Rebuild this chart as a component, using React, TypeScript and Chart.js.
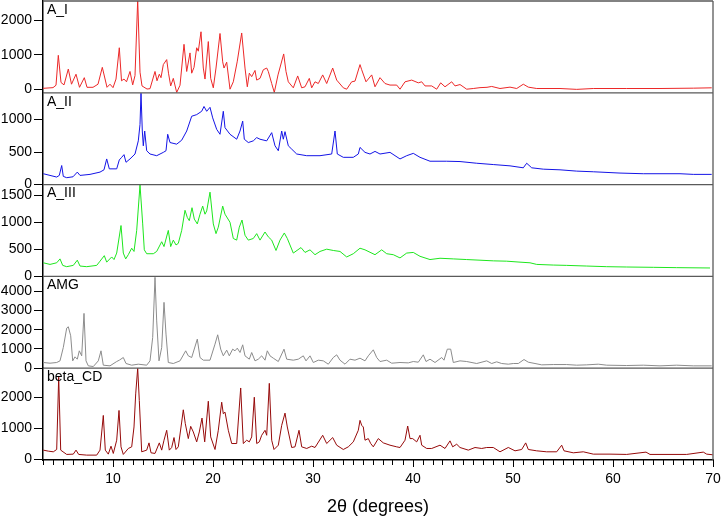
import { useEffect, useRef } from 'react';
import { Chart, registerables } from 'chart.js';

Chart.register(...registerables);

type Pt = [number, number];

// 2θ (degrees), intensity
const A_I: Pt[] = [
  [3.0, 30], [3.5, 40], [4.0, 50], [4.3, 120], [4.53, 990], [4.8, 200], [5.1, 130], [5.53, 590], [5.85, 150],
  [6.3, 440], [6.65, 60], [7.13, 340], [7.4, 60], [8.0, 60], [8.5, 150], [8.93, 640], [9.4, 60], [9.7, 150],
  [10.0, 50], [10.3, 300], [10.63, 1210], [10.85, 250], [11.1, 300], [11.35, 220], [11.7, 520], [11.97, 130],
  [12.2, 400], [12.47, 2600], [12.7, 500], [12.9, 100], [13.4, 10], [13.7, 20], [14.2, 520], [14.4, 250],
  [14.63, 440], [14.8, 340], [15.03, 720], [15.37, 865], [15.55, 470], [15.77, 100], [16.03, 320], [16.37, -90],
  [16.7, 120], [17.1, 1310], [17.37, 520], [17.7, 1060], [17.87, 470], [18.1, 640], [18.37, 1210], [18.53, 1110],
  [18.8, 1675], [19.03, 620], [19.2, 300], [19.53, 1390], [19.77, 320], [20.03, 45], [20.3, 620], [20.7, 1625],
  [20.97, 800], [21.1, 620], [21.37, 790], [21.7, 5], [22.03, 220], [22.43, 820], [22.87, 1640], [23.2, 620],
  [23.43, 75], [23.63, 470], [23.87, 370], [24.2, 550], [24.37, 270], [24.7, 320], [25.03, 570], [25.37, 620],
  [25.53, 520], [25.87, 170], [26.13, -90], [26.5, 420], [27.07, 1030], [27.3, 520], [27.53, 220], [28.03, 45],
  [28.47, 390], [28.87, 45], [29.2, 75], [29.63, 320], [29.87, 45], [30.2, 220], [30.53, 170], [30.97, 420],
  [31.37, 170], [31.97, 620], [32.37, 270], [33.03, 45], [33.37, 5], [33.87, 220], [34.2, 240], [34.7, 720],
  [34.87, 570], [35.3, 220], [35.87, 420], [36.2, 75], [36.7, 340], [37.2, 170], [37.7, 125], [38.37, 125],
  [38.7, 5], [39.2, 220], [39.87, 270], [40.53, 190], [40.87, 220], [41.2, 100], [41.87, 100], [42.37, 5],
  [42.77, 190], [43.2, 75], [43.87, 220], [44.2, 100], [44.7, 140], [45.37, 5], [46.03, 25], [46.7, 50],
  [47.4, 60], [47.87, 85], [48.7, 25], [49.7, 65], [50.37, 25], [51.03, 150], [51.53, 65], [52.37, 25],
  [54.7, 25], [56.37, 0], [58.03, 25], [61.37, 25], [64.7, 25], [68.03, 35], [69.87, 45],
];

const A_II: Pt[] = [
  [3.03, 167], [3.7, 141], [4.37, 116], [4.63, 141], [4.87, 293], [5.03, 126], [5.37, 106], [6.0, 120],
  [6.43, 192], [6.7, 141], [7.7, 157], [8.7, 192], [9.1, 227], [9.37, 394], [9.63, 242], [10.37, 242],
  [10.63, 379], [10.87, 419], [11.1, 460], [11.3, 343], [11.7, 394], [12.2, 470], [12.53, 672], [12.7, 924],
  [12.8, 1404], [12.93, 823], [13.03, 596], [13.17, 823], [13.37, 520], [13.7, 470], [14.37, 444], [15.03, 495],
  [15.3, 520], [15.47, 773], [15.7, 646], [16.37, 621], [16.87, 682], [17.37, 823], [17.87, 1050], [18.37, 1075],
  [18.87, 1126], [19.1, 1200], [19.37, 1126], [19.7, 1187], [19.97, 1025], [20.37, 848], [20.7, 773],
  [21.03, 1126], [21.2, 874], [21.7, 773], [22.37, 697], [22.7, 823], [22.97, 975], [23.13, 697], [23.53, 646],
  [24.03, 672], [24.37, 722], [24.7, 697], [25.37, 672], [25.87, 798], [26.2, 596], [26.53, 520], [26.87, 823],
  [27.03, 697], [27.2, 813], [27.53, 596], [27.87, 545], [28.37, 470], [29.37, 444], [30.7, 444], [31.87, 470],
  [32.2, 823], [32.43, 470], [33.03, 419], [34.03, 419], [34.53, 470], [34.7, 571], [35.2, 495], [35.7, 470],
  [36.2, 510], [36.7, 470], [37.7, 495], [38.7, 394], [39.37, 444], [40.03, 480], [40.7, 419], [41.7, 359],
  [43.37, 359], [44.7, 354], [46.37, 328], [48.03, 308], [49.7, 288], [51.03, 258], [51.37, 328], [51.87, 258],
  [53.03, 237], [54.7, 227], [56.37, 207], [58.03, 197], [60.7, 177], [63.03, 167], [64.7, 167], [66.7, 167],
  [68.03, 157], [69.87, 157],
];

const A_III: Pt[] = [
  [3.03, 252], [3.7, 222], [4.37, 252], [4.7, 324], [4.97, 204], [5.37, 180], [6.03, 204], [6.43, 300],
  [6.7, 192], [7.37, 180], [8.37, 204], [8.7, 282], [9.13, 384], [9.37, 264], [9.87, 360], [10.1, 312],
  [10.37, 432], [10.8, 942], [11.03, 432], [11.27, 324], [11.53, 402], [11.87, 522], [12.1, 462], [12.37, 852],
  [12.7, 1692], [12.97, 972], [13.13, 492], [13.37, 420], [14.03, 420], [14.37, 462], [14.87, 642], [15.1, 552],
  [15.53, 852], [15.77, 552], [16.03, 672], [16.3, 582], [16.53, 612], [16.87, 852], [17.2, 1224], [17.43, 1092],
  [17.63, 1032], [17.9, 1272], [18.13, 1062], [18.43, 972], [18.7, 1152], [18.97, 1302], [19.2, 1152],
  [19.37, 1212], [19.7, 1560], [20.03, 972], [20.3, 792], [20.53, 912], [20.97, 1302], [21.2, 1152], [21.7, 1002],
  [22.03, 702], [22.37, 672], [22.63, 912], [22.9, 1044], [23.2, 762], [23.53, 672], [24.03, 702], [24.37, 792],
  [24.7, 672], [25.2, 822], [25.53, 732], [25.87, 672], [26.3, 480], [26.7, 672], [27.13, 804], [27.43, 702],
  [28.03, 432], [28.8, 534], [29.2, 444], [29.7, 492], [30.2, 402], [30.7, 462], [31.37, 504], [32.03, 480],
  [32.7, 462], [33.37, 360], [34.03, 420], [34.7, 522], [35.2, 492], [36.2, 402], [36.87, 492], [37.37, 420],
  [38.03, 402], [38.7, 342], [39.37, 432], [40.03, 444], [40.7, 372], [41.7, 312], [42.7, 336], [44.03, 324],
  [45.37, 312], [46.7, 300], [48.03, 288], [49.37, 282], [50.7, 264], [51.7, 252], [52.37, 222], [54.03, 210],
  [55.37, 204], [57.37, 192], [59.37, 180], [61.37, 174], [64.03, 168], [66.37, 162], [69.7, 156],
];

const AMG: Pt[] = [
  [3.03, 296], [3.7, 261], [4.37, 296], [4.7, 383], [5.03, 1079], [5.37, 2088], [5.53, 2158], [5.77, 1688],
  [5.97, 383], [6.2, 592], [6.43, 470], [6.63, 905], [6.87, 644], [7.1, 2854], [7.3, 383], [7.53, 122],
  [8.03, 87], [8.53, 383], [8.8, 905], [9.03, 157], [9.7, 122], [10.37, 348], [10.63, 418], [11.03, 557],
  [11.3, 244], [11.87, 157], [12.53, 209], [13.37, 157], [13.7, 383], [13.97, 1601], [14.2, 4733], [14.37, 2462],
  [14.6, 383], [14.87, 1079], [15.1, 3428], [15.3, 1775], [15.53, 296], [16.03, 244], [16.7, 383], [17.27, 905],
  [17.53, 644], [17.87, 557], [18.43, 1514], [18.7, 557], [19.03, 418], [19.7, 418], [20.2, 1253], [20.47, 1740],
  [20.77, 992], [21.03, 644], [21.37, 940], [21.63, 644], [21.97, 992], [22.2, 905], [22.43, 1044], [22.7, 818],
  [22.97, 1218], [23.2, 644], [23.63, 470], [23.87, 818], [24.2, 383], [24.53, 470], [24.87, 644], [25.2, 418],
  [25.43, 905], [25.7, 644], [26.03, 522], [26.53, 348], [27.1, 992], [27.37, 470], [28.03, 418], [28.53, 470],
  [29.03, 644], [29.3, 383], [29.7, 644], [30.03, 296], [30.53, 418], [31.03, 383], [31.53, 209], [32.03, 557],
  [32.37, 696], [32.7, 418], [33.2, 209], [33.7, 470], [34.2, 418], [34.7, 522], [35.2, 383], [35.53, 644],
  [36.03, 957], [36.37, 557], [36.7, 348], [37.37, 418], [37.87, 261], [38.7, 296], [39.53, 278], [40.03, 348],
  [40.53, 313], [41.03, 696], [41.3, 348], [41.7, 470], [42.2, 296], [42.87, 557], [43.1, 418], [43.43, 992],
  [43.77, 992], [44.03, 296], [44.7, 383], [45.37, 348], [46.37, 244], [47.37, 383], [47.87, 244], [48.37, 331],
  [48.87, 244], [49.53, 209], [50.03, 244], [50.53, 244], [51.1, 452], [51.53, 313], [52.2, 244], [52.87, 174],
  [54.03, 191], [55.37, 191], [56.37, 157], [57.37, 174], [58.53, 209], [59.37, 157], [61.37, 139], [63.03, 157],
  [64.7, 122], [66.37, 157], [68.03, 122], [69.87, 122],
];

const BETA_CD: Pt[] = [
  [3.03, 289], [3.53, 257], [4.03, 235], [4.37, 310], [4.57, 2650], [4.77, 289], [5.37, 150], [6.03, 160],
  [6.3, 289], [6.57, 150], [7.37, 128], [8.37, 128], [8.7, 289], [9.03, 1412], [9.23, 289], [9.53, 160],
  [9.8, 417], [10.03, 182], [10.37, 610], [10.6, 1573], [10.8, 396], [11.03, 150], [11.53, 343], [11.87, 396],
  [12.1, 1038], [12.27, 2108], [12.47, 2940], [12.63, 1894], [12.87, 235], [13.37, 289], [13.6, 524], [13.8, 203],
  [14.2, 182], [14.63, 524], [14.87, 289], [15.1, 610], [15.37, 931], [15.63, 289], [15.87, 374], [16.1, 696],
  [16.3, 310], [16.53, 396], [16.87, 1198], [17.03, 1594], [17.23, 1145], [17.53, 663], [17.77, 1059], [18.03, 877],
  [18.37, 556], [18.63, 877], [18.9, 1327], [19.17, 556], [19.53, 1872], [19.77, 717], [20.2, 310], [20.53, 931],
  [20.87, 1840], [21.03, 1466], [21.2, 1519], [21.53, 931], [21.87, 503], [22.37, 503], [22.77, 2300], [23.03, 503],
  [23.37, 610], [23.63, 556], [23.87, 717], [24.13, 2001], [24.37, 503], [24.63, 556], [24.87, 770], [25.2, 931],
  [25.37, 770], [25.63, 2450], [25.87, 610], [26.1, 310], [26.53, 449], [26.87, 1091], [27.2, 1487], [27.43, 1038],
  [27.87, 374], [28.2, 396], [28.6, 931], [28.87, 396], [29.37, 343], [29.87, 417], [30.2, 374], [30.97, 770],
  [31.37, 503], [31.97, 696], [32.37, 449], [33.03, 310], [33.53, 396], [34.03, 556], [34.53, 931], [34.7, 1252],
  [34.87, 1091], [35.03, 1038], [35.2, 610], [35.53, 663], [35.77, 503], [36.03, 396], [36.53, 663], [37.03, 524],
  [37.7, 449], [38.37, 396], [38.7, 374], [39.2, 610], [39.47, 1070], [39.7, 663], [39.97, 663], [40.37, 556],
  [40.7, 770], [40.87, 449], [41.37, 343], [41.87, 343], [42.7, 449], [43.2, 343], [43.7, 589], [43.97, 396],
  [44.37, 481], [44.7, 374], [45.53, 289], [46.2, 374], [46.87, 343], [47.37, 374], [48.03, 374], [48.7, 235],
  [49.53, 375], [50.2, 267], [50.87, 310], [51.27, 524], [51.53, 310], [52.37, 267], [53.37, 235], [54.37, 235],
  [54.87, 449], [55.1, 267], [56.03, 203], [57.03, 235], [58.03, 160], [59.7, 160], [61.37, 150], [63.3, 225],
  [63.7, 150], [65.7, 150], [67.37, 150], [69.03, 225], [69.37, 160], [69.97, 139],
];

const X_MIN = 3;
const X_MAX = 70;
const X_MAJOR_TICKS = [10, 20, 30, 40, 50, 60, 70];
const X_TITLE = '2θ (degrees)';

const PANELS = [
  { id: 'yA1', label: 'A_I', data: A_I, color: 'rgb(236,40,40)', min: -100, max: 2570, ticks: [0, 1000, 2000] },
  { id: 'yA2', label: 'A_II', data: A_II, color: 'rgb(20,20,230)', min: 0, max: 1410, ticks: [0, 500, 1000] },
  { id: 'yA3', label: 'A_III', data: A_III, color: 'rgb(30,230,30)', min: 0, max: 1700, ticks: [0, 500, 1000, 1500] },
  { id: 'yAMG', label: 'AMG', data: AMG, color: 'rgb(140,140,140)', min: 0, max: 4780, ticks: [0, 1000, 2000, 3000, 4000] },
  { id: 'yBCD', label: 'beta_CD', data: BETA_CD, color: 'rgb(150,10,10)', min: -30, max: 2940, ticks: [0, 1000, 2000] },
];

const FONT = '"Liberation Sans", Arial, Helvetica, sans-serif';

const framePlugin = {
  id: 'panelFrame',
  afterDatasetsDraw(chart: any) {
    const { ctx, chartArea } = chart;
    ctx.save();
    ctx.strokeStyle = '#5a5a5a';
    ctx.lineWidth = 1.3;
    ctx.beginPath();
    PANELS.forEach((p) => {
      const s = chart.scales[p.id];
      ctx.moveTo(chartArea.left, s.top);
      ctx.lineTo(chartArea.right, s.top);
    });
    ctx.moveTo(chartArea.right, chartArea.top);
    ctx.lineTo(chartArea.right, chartArea.bottom);
    ctx.stroke();
    ctx.fillStyle = '#000';
    ctx.font = `14px ${FONT}`;
    ctx.textBaseline = 'top';
    ctx.textAlign = 'left';
    PANELS.forEach((p) => {
      const s = chart.scales[p.id];
      ctx.fillText(p.label, chartArea.left + 4, s.top + 2);
    });
    ctx.restore();
  },
};

export default function App() {
  const ref = useRef<HTMLCanvasElement | null>(null);

  useEffect(() => {
    if (!ref.current) return;
    const scales: any = {
      xMinor: {
        type: 'linear',
        position: 'bottom',
        min: X_MIN,
        max: X_MAX,
        weight: 0,
        ticks: { display: false, stepSize: 1, autoSkip: false },
        grid: { drawOnChartArea: false, drawTicks: true, tickLength: 5, tickColor: '#000', tickWidth: 1 },
        border: { display: false },
        afterFit: (s: any) => { s.height = 0; s.paddingLeft = 0; s.paddingRight = 0; },
      },
      x: {
        type: 'linear',
        position: 'bottom',
        min: X_MIN,
        max: X_MAX,
        weight: 1,
        afterBuildTicks: (s: any) => { s.ticks = X_MAJOR_TICKS.map((v) => ({ value: v })); },
        ticks: { autoSkip: false, maxRotation: 0, color: '#000', font: { family: FONT, size: 14 }, padding: 4, callback: (v: any) => String(v) },
        grid: { drawOnChartArea: false, drawTicks: true, tickLength: 7, tickColor: '#000', tickWidth: 1 },
        border: { display: true, color: '#000', width: 1.5 },
        title: { display: true, text: X_TITLE, color: '#000', font: { family: FONT, size: 18 }, padding: { top: 4, bottom: 0 } },
        afterFit: (s: any) => { s.height = 58; s.paddingLeft = 0; s.paddingRight = 0; },
      },
    };
    PANELS.forEach((p, i) => {
      scales[p.id] = {
        type: 'linear',
        position: 'left',
        stack: 'panels',
        stackWeight: 1,
        weight: PANELS.length - i,
        offset: false,
        min: p.min,
        max: p.max,
        afterBuildTicks: (s: any) => { s.ticks = p.ticks.map((v) => ({ value: v })); },
        ticks: { autoSkip: false, color: '#000', font: { family: FONT, size: 14 }, padding: 2, callback: (v: any) => String(v) },
        grid: { drawOnChartArea: false, drawTicks: true, tickLength: 9, tickColor: '#000', tickWidth: 1 },
        border: { display: true, color: '#000', width: 1.5 },
        afterFit: (s: any) => { s.width = 43; s.paddingTop = 0; s.paddingBottom = 0; },
      };
    });

    const chart = new Chart(ref.current, {
      type: 'line',
      data: {
        datasets: PANELS.map((p) => ({
          label: p.label,
          data: p.data.map(([x, y]) => ({ x, y })),
          xAxisID: 'x',
          yAxisID: p.id,
          borderColor: p.color,
          borderWidth: 1,
          pointRadius: 0,
          tension: 0,
          fill: false,
        })),
      },
      options: {
        animation: false,
        responsive: true,
        maintainAspectRatio: false,
        layout: { padding: { top: 1, right: 8, left: 0, bottom: 0 } },
        plugins: { legend: { display: false }, tooltip: { enabled: false } },
        scales,
      },
      plugins: [framePlugin],
    } as any);
    return () => chart.destroy();
  }, []);

  return (
    <div style={{ position: 'absolute', left: 0, top: 0, width: 721, height: 518, background: '#fff' }}>
      <canvas ref={ref} />
    </div>
  );
}
